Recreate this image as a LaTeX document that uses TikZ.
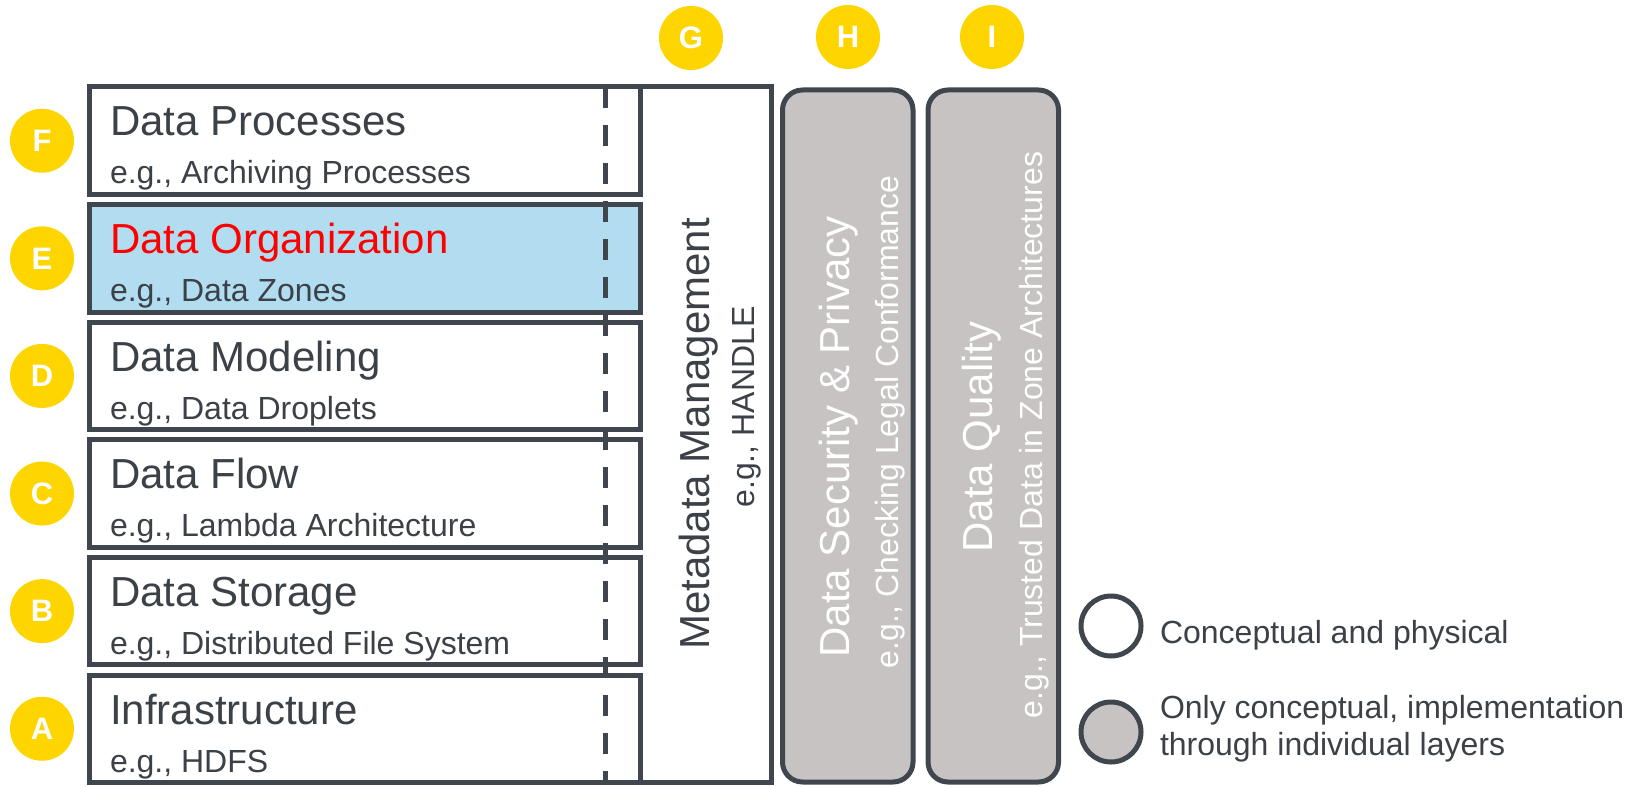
\documentclass[tikz,border=0pt]{standalone}
\usepackage{fontspec}
\setmainfont{Liberation Sans}
\definecolor{edge}{HTML}{40464D}
\definecolor{ink}{HTML}{3C4148}
\definecolor{gold}{HTML}{FFD500}
\definecolor{zone}{HTML}{B2DDF1}
\definecolor{stone}{HTML}{C6C3C2}

\begin{document}
\begin{tikzpicture}[x=0.5pt, y=-0.5pt]
    \tikzstyle{every node}=[inner sep=0pt, outer sep=0pt, text=ink]
    \tikzstyle{layer}=[rectangle, draw=edge, line width=2.5pt, fill=white, minimum width=275.5pt, minimum height=53.75pt, anchor=north west]
    \tikzstyle{title}=[anchor=base west, font=\fontsize{21}{25}\selectfont]
    \tikzstyle{sample}=[anchor=base west, font=\fontsize{16}{19}\selectfont]
    \tikzstyle{upright}=[rotate=90, anchor=base]
    \tikzstyle{badge}=[circle, fill=gold, minimum size=32pt, text=white, font=\fontsize{15.5}{18}\selectfont\bfseries]
    \tikzstyle{pillar}=[rectangle, draw=edge, fill=stone, line width=2.5pt, rounded corners=10pt, minimum width=65.25pt, minimum height=346pt, anchor=north west]
    \tikzstyle{key}=[circle, draw=edge, line width=2.5pt, minimum size=30pt]
    \tikzstyle{cut}=[draw=edge, line width=2.5pt, dash pattern=on 10.5pt off 8.5pt]

    \useasboundingbox (0,0) rectangle (1636,786);

    % metadata column, open on the left
    \node[rectangle, minimum width=65.5pt, minimum height=347.75pt, anchor=north west] (meta) at (640.5,87) {};
    \draw[draw=edge, line width=2.5pt] (meta.north west) -- (meta.north east) -- (meta.south east) -- (meta.south west);
    \node[title, upright] (metaTitle) at (709,434) {Metadata Management};
    \node[sample, upright] (metaSample) at (754,407) {e.g., HANDLE};

    % layers
    \node[layer] (layerF) at (89.5,87) {};
    \node[layer, fill=zone] (layerE) at (89.5,204.6) {};
    \node[layer] (layerD) at (89.5,322.2) {};
    \node[layer] (layerC) at (89.5,439.8) {};
    \node[layer] (layerB) at (89.5,557.4) {};
    \node[layer] (layerA) at (89.5,675) {};

    \node[title] (titleF) at ([shift={(20.5,49)}]layerF.north west) {Data Processes};
    \node[sample] (sampleF) at ([shift={(20.5,97)}]layerF.north west) {e.g., Archiving Processes};
    \node[title, text=red] (titleE) at ([shift={(20.5,49)}]layerE.north west) {Data Organization};
    \node[sample] (sampleE) at ([shift={(20.5,97)}]layerE.north west) {e.g., Data Zones};
    \node[title] (titleD) at ([shift={(20.5,49)}]layerD.north west) {Data Modeling};
    \node[sample] (sampleD) at ([shift={(20.5,97)}]layerD.north west) {e.g., Data Droplets};
    \node[title] (titleC) at ([shift={(20.5,49)}]layerC.north west) {Data Flow};
    \node[sample] (sampleC) at ([shift={(20.5,97)}]layerC.north west) {e.g., Lambda Architecture};
    \node[title] (titleB) at ([shift={(20.5,49)}]layerB.north west) {Data Storage};
    \node[sample] (sampleB) at ([shift={(20.5,97)}]layerB.north west) {e.g., Distributed File System};
    \node[title] (titleA) at ([shift={(20.5,49)}]layerA.north west) {Infrastructure};
    \node[sample] (sampleA) at ([shift={(20.5,97)}]layerA.north west) {e.g., HDFS};

    \coordinate (cutTop) at (605.5,87);
    \coordinate (cutBottom) at (605.5,782.5);
    \draw[cut] (cutTop) -- (cutBottom);

    % cross-cutting pillars
    \node[pillar] (security) at (782.5,90) {};
    \node[pillar] (quality) at (928,90) {};
    \node[title, upright, text=white] (securityTitle) at (849,437) {Data Security \& Privacy};
    \node[sample, upright, text=white] (securitySample) at (898,422) {e.g., Checking Legal Conformance};
    \node[title, upright, text=white] (qualityTitle) at (992,437) {Data Quality};
    \node[sample, upright, text=white] (qualitySample) at (1042,435) {e.g., Trusted Data in Zone Architectures};

    % letters
    \node[badge] (F) at ([shift={(-47.5,0)}]layerF.west) {F};
    \node[badge] (E) at ([shift={(-47.5,0)}]layerE.west) {E};
    \node[badge] (D) at ([shift={(-47.5,0)}]layerD.west) {D};
    \node[badge] (C) at ([shift={(-47.5,0)}]layerC.west) {C};
    \node[badge] (B) at ([shift={(-47.5,0)}]layerB.west) {B};
    \node[badge] (A) at ([shift={(-47.5,0)}]layerA.west) {A};
    \node[badge] (G) at (691,38) {G};
    \node[badge] (H) at (848,37) {H};
    \node[badge] (I) at (992,37) {I};

    % legend
    \node[key, fill=white] (keyConc) at (1111,626) {};
    \node[key, fill=stone] (keyImpl) at (1111,732) {};
    \node[sample] (keyConcText) at (1160,643) {Conceptual and physical};
    \node[sample, align=left, font=\fontsize{16}{18.5}\selectfont] (keyImplText) at (1160,755) {Only conceptual, implementation\\through individual layers};
\end{tikzpicture}
\end{document}
